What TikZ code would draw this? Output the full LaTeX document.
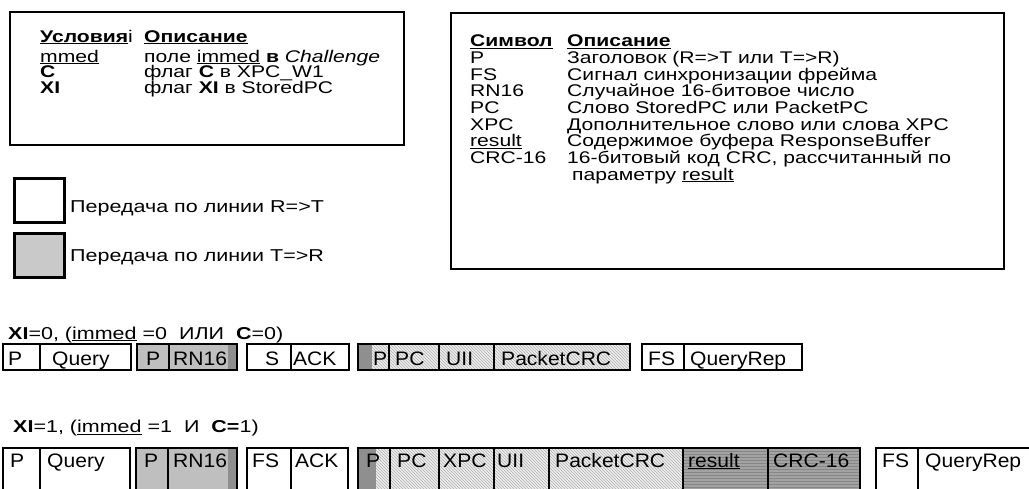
\documentclass[tikz,border=0pt]{standalone}
\usepackage{fontspec}
\setmainfont{Liberation Sans}
\newfontfamily\tabfont[FakeStretch=1.25]{Liberation Sans}
\newfontfamily\cellfont[FakeStretch=1.08]{Liberation Sans}
\usetikzlibrary{patterns}
\tikzset{
 tablebox/.style={draw=black, line width=2pt},
 legbox/.style={draw=black, line width=3pt},
 txt/.style={anchor=base west, inner sep=0pt, font=\tabfont\fontsize{16.9}{18}\selectfont},
 ltxt/.style={anchor=base west, inner sep=0pt, font=\tabfont\fontsize{17.2}{18}\selectfont},
 ctxt/.style={anchor=base west, inner sep=0pt, font=\cellfont\fontsize{19.5}{22}\selectfont},
 cellbox/.style={draw=black, line width=1.8pt},
 lightfill/.style={fill=gray!14, postaction={pattern=north west lines, pattern color=gray!60}},
 midfill/.style={fill=gray!50},
 darkfill/.style={fill=gray!72, postaction={pattern=horizontal lines, pattern color=gray!95}},
 stripfill/.style={fill=gray!88},
}
\begin{document}
\begin{tikzpicture}[x=1pt,y=-1pt]
\clip (0,0) rectangle (1029,488);
\fill[white] (0,0) rectangle (1029,488);

% ---- table 1
\draw[tablebox] (10,12) rectangle (404,145);
\node[txt] (h1a) at (40,42) {\textbf{\underline{Условия}}i};
\node[txt] (h1b) at (144,42) {\textbf{\underline{Описание}}};
\node[txt] (t1a) at (40,62) {\underline{mmed}};
\node[txt] (t1b) at (144,62) {поле \underline{immed} \textbf{в} \textit{Challenge}};
\node[txt] (t2a) at (40,77.5) {\textbf{C}};
\node[txt] (t2b) at (144,77.5) {флаг \textbf{C} в XPC\_W1};
\node[txt] (t3a) at (40,93) {\textbf{XI}};
\node[txt] (t3b) at (144,93) {флаг \textbf{XI} в StoredPC};

% ---- table 2
\draw[tablebox] (451,13) rectangle (1004,269);
\node[txt] (s0a) at (470,46.7) {\textbf{\underline{Символ}}};
\node[txt] (s0b) at (567,46.7) {\textbf{\underline{Описание}}};
\node[txt] (s1a) at (470,63.3) {P};
\node[txt] (s1b) at (567,63.3) {Заголовок (R=>T или T=>R)};
\node[txt] (s2a) at (470,80) {FS};
\node[txt] (s2b) at (567,80) {Сигнал синхронизации фрейма};
\node[txt] (s3a) at (470,96.7) {RN16};
\node[txt] (s3b) at (567,96.7) {Случайное 16-битовое число};
\node[txt] (s4a) at (470,113.3) {PC};
\node[txt] (s4b) at (567,113.3) {Слово StoredPC или PacketPC};
\node[txt] (s5a) at (470,130) {XPC};
\node[txt] (s5b) at (567,130) {Дополнительное слово или слова XPC};
\node[txt] (s6a) at (470,146.7) {\underline{result}};
\node[txt] (s6b) at (567,146.7) {Содержимое буфера ResponseBuffer};
\node[txt] (s7a) at (470,163.3) {CRC-16};
\node[txt] (s7b) at (567,163.3) {16-битовый код CRC, рассчитанный по};
\node[txt] (s8b) at (572,180) {параметру \underline{result}};

% ---- legend
\draw[legbox, fill=white] (14,178) rectangle (64,222);
\draw[legbox, fill=gray!42] (14,233) rectangle (64,277);
\node[ltxt] (l1) at (70,212.7) {Передача по линии R=>T};
\node[ltxt] (l2) at (70,261) {Передача по линии T=>R};

% ---- row 1
\draw[cellbox, fill=white] (3,344) rectangle (131,370);
\draw[cellbox] (40,344) -- (40,370);
\fill[midfill] (137,344) rectangle (237,370);
\fill[stripfill] (228,344) rectangle (237,370);
\draw[cellbox] (137,344) rectangle (237,370);
\draw[cellbox] (169,344) -- (169,370);
\draw[cellbox, fill=white] (247,344) rectangle (349,370);
\draw[cellbox] (291,344) -- (291,370);
\fill[lightfill] (358,344) rectangle (630,370);
\fill[stripfill] (358,344) rectangle (372,370);
\draw[cellbox] (358,344) rectangle (630,370);
\draw[cellbox] (389,344) -- (389,370);
\draw[cellbox] (439,344) -- (439,370);
\draw[cellbox] (494,344) -- (494,370);
\draw[cellbox, fill=white] (642,344) rectangle (802,370);
\draw[cellbox] (684,344) -- (684,370);
\node[ltxt] (r1) at (8,339) {\textbf{XI}=0, (\underline{immed} =0\ \ ИЛИ\ \ \textbf{C}=0)};

\node[ctxt] (a1) at (8,365) {P};
\node[ctxt] (a2) at (52,365) {Query};
\node[ctxt] (a3) at (146,365) {P};
\node[ctxt] (a4) at (173,365) {RN16};
\node[ctxt] (a5) at (265,365) {S};
\node[ctxt] (a6) at (293,365) {ACK};
\node[ctxt] (a7) at (373,365) {P};
\node[ctxt] (a8) at (395,365) {PC};
\node[ctxt] (a9) at (446,365) {UII};
\node[ctxt] (a10) at (501,365) {PacketCRC};
\node[ctxt] (a11) at (648,365) {FS};
\node[ctxt] (a12) at (690,365) {QueryRep};

% ---- row 2
\draw[cellbox, fill=white] (3,448) rectangle (130,495);
\draw[cellbox] (40,448) -- (40,495);
\fill[midfill] (136,448) rectangle (237,495);
\fill[stripfill] (228,448) rectangle (237,495);
\draw[cellbox] (136,448) rectangle (237,495);
\draw[cellbox] (168,448) -- (168,495);
\draw[cellbox, fill=white] (247,448) rectangle (348,495);
\draw[cellbox] (291,448) -- (291,495);
\fill[lightfill] (358,448) rectangle (683,495);
\fill[stripfill] (358,448) rectangle (376,495);
\fill[darkfill] (683,448) rectangle (860,495);
\draw[cellbox] (358,448) rectangle (860,495);
\draw[cellbox] (390,448) -- (390,495);
\draw[cellbox] (439,448) -- (439,495);
\draw[cellbox] (494,448) -- (494,495);
\draw[cellbox] (549,448) -- (549,495);
\draw[cellbox] (683,448) -- (683,495);
\draw[cellbox] (768,448) -- (768,495);
\draw[cellbox, fill=white] (876,448) rectangle (1040,495);
\draw[cellbox] (918,448) -- (918,495);
\node[ltxt] (r2) at (13,432.5) {\textbf{XI}=1, (\underline{immed} =1\ \ И\ \ \textbf{C=}1)};

\node[ctxt] (b1) at (10,467) {P};
\node[ctxt] (b2) at (47,467) {Query};
\node[ctxt] (b3) at (144,467) {P};
\node[ctxt] (b4) at (173,467) {RN16};
\node[ctxt] (b5) at (252,467) {FS};
\node[ctxt] (b6) at (295,467) {ACK};
\node[ctxt] (b7) at (366,467) {P};
\node[ctxt] (b8) at (397,467) {PC};
\node[ctxt] (b9) at (443,467) {XPC};
\node[ctxt] (b10) at (497,467) {UII};
\node[ctxt] (b11) at (555,467) {PacketCRC};
\node[ctxt] (b12) at (688,467) {\underline{result}};
\node[ctxt] (b13) at (773,467) {CRC-16};
\node[ctxt] (b14) at (882,467) {FS};
\node[ctxt] (b15) at (925,467) {QueryRep};
\end{tikzpicture}
\end{document}
